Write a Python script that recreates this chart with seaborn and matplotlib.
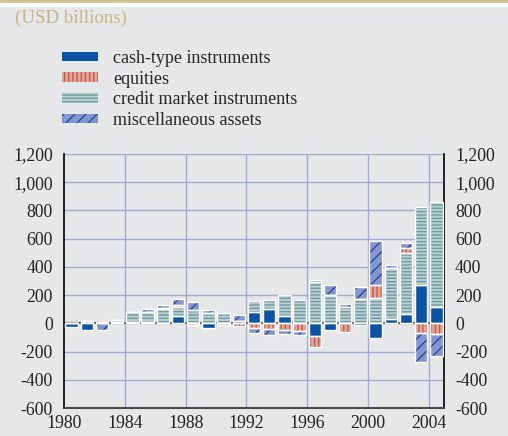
import numpy as np
import matplotlib
matplotlib.use("Agg")
import matplotlib.pyplot as plt
import matplotlib.ticker as mticker
from matplotlib.patches import Patch, Rectangle
import seaborn as sns

# Values (USD billions)
years = list(range(1980, 2005))
cash = [-25, -45, 0, 10, 12, 12, 0, 55, 0, -32, 0, 20, 83, 102, 55, 0,
        -90, -48, 0, -10, -107, 29, 69, 269, 114]
credit = [0, 15, 12, 12, 66, 71, 100, 64, 95, 70, 74, 0, 78, 60, 143, 167,
          290, 198, 114, 171, 178, 364, 428, 552, 748]
equities = [0, 0, 0, 0, 0, 0, 8, 12, -10, 0, -15, -17, -35, -40, -48, -52,
            -81, 0, -60, 0, 91, 0, 36, -67, -79]
misc = [0, 0, -45, 0, 0, 17, 20, 40, 57, 25, 0, 38, -36, -43, -28, -28,
        19, 76, 22, 85, 314, 23, 38, -207, -154]

series_names = ["cash-type instruments", "equities",
                "credit market instruments", "miscellaneous assets"]
# stacking order in the bars: cash, credit, equities, misc
stack = [("cash-type instruments", cash),
         ("credit market instruments", credit),
         ("equities", equities),
         ("miscellaneous assets", misc)]

styles = {
    "cash-type instruments": dict(face="#0a53a6", hatch=None, hcol="#0a53a6"),
    "equities": dict(face="#e3a596", hatch="||||", hcol="#c45a4c"),
    "credit market instruments": dict(face="#b7cfd2", hatch="-----", hcol="#6f9ba1"),
    "miscellaneous assets": dict(face="#8396d2", hatch="///", hcol="#2a4c9c"),
}

BG = "#e6e7e9"
GRID = "#a2aad8"

sns.set_theme(style="white")
plt.rcParams["font.family"] = ["Liberation Serif", "DejaVu Serif"]
plt.rcParams["hatch.linewidth"] = 1.0

fig = plt.figure(figsize=(5.08, 4.36), dpi=100, facecolor=BG)
ax = fig.add_axes([64 / 508, 28 / 436, 380 / 508, 254 / 436])
ax.set_facecolor(BG)

x = np.array(years) + 0.5
pos_bottom = np.zeros(len(years))
neg_bottom = np.zeros(len(years))
for name, vals in stack:
    v = np.array(vals, dtype=float)
    bottom = np.where(v >= 0, pos_bottom, neg_bottom)
    st = styles[name]
    ax.bar(x, v, bottom=bottom, width=0.82, color=st["face"],
           edgecolor=st["hcol"], hatch=st["hatch"], linewidth=0, zorder=3)
    ax.bar(x, v, bottom=bottom, width=0.82, fill=False,
           edgecolor="white", linewidth=1.0, zorder=4)
    pos_bottom = pos_bottom + np.where(v > 0, v, 0)
    neg_bottom = neg_bottom + np.where(v < 0, v, 0)

ax.set_xlim(1980, 2005)
ax.set_ylim(-600, 1200)
ax.set_xticks(range(1980, 2005, 4))
ax.set_yticks(range(-600, 1201, 200))
ax.yaxis.set_major_formatter(mticker.FuncFormatter(lambda v, p: f"{int(v):,}"))

# grid: horizontal every 200, vertical at 1984..2004
for yv in range(-400, 1201, 200):
    if yv != 0:
        ax.axhline(yv, color=GRID, lw=1.0, zorder=1)
for xv in range(1984, 2005, 4):
    ax.axvline(xv, color=GRID, lw=1.0, zorder=1)
ax.axhline(0, color="#5a5a5a", lw=1.6, zorder=2)

ax.spines["top"].set_visible(False)
ax.spines["bottom"].set_color("#4a4a4a")
ax.spines["bottom"].set_linewidth(1.5)
for side in ["left", "right"]:
    ax.spines[side].set_color("black")
    ax.spines[side].set_linewidth(1.2)

ax.tick_params(axis="y", length=0, labelsize=12.8, colors="#222222",
               labelleft=True, labelright=True, pad=8)
ax.tick_params(axis="x", length=3, width=1.2, color="#4a4a4a", direction="out",
               labelsize=12.8, labelcolor="#222222", pad=2)

# legend
handles = [Patch(facecolor=styles[n]["face"], edgecolor=styles[n]["hcol"],
                 hatch=styles[n]["hatch"], linewidth=0, label=n)
           for n in series_names]
fig.legend(handles=handles, loc="upper left", bbox_to_anchor=(62 / 508, 1 - 50 / 436),
           frameon=False, fontsize=13, handlelength=2.0, handleheight=0.45,
           labelspacing=0.2, handletextpad=0.85, borderaxespad=0, borderpad=0)

# title strip
fig.add_artist(Rectangle((0, 1 - 3 / 436), 1, 3 / 436, transform=fig.transFigure,
                         color="#cfc28c", zorder=0))
fig.add_artist(Rectangle((0, 1 - 6 / 436), 1, 3 / 436, transform=fig.transFigure,
                         color="white", zorder=0))
fig.text(15 / 508, 1 - 18 / 436, "(USD billions)", color="#c6b77c", fontsize=13.6,
         va="center", ha="left")

fig.savefig("out.png", dpi=100, facecolor=BG)
